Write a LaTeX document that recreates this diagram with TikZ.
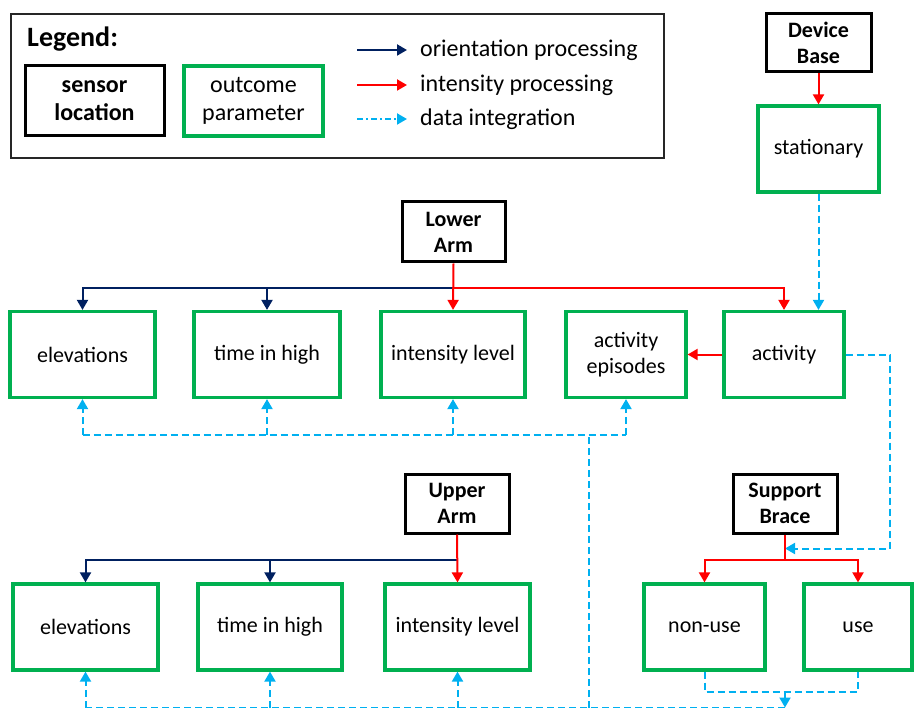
\documentclass[tikz,border=0pt]{standalone}
\usepackage{fontspec}
\setmainfont{Carlito}
\usetikzlibrary{arrows.meta, calc}

\definecolor{outgreen}{RGB}{0,176,80}
\definecolor{orinavy}{RGB}{0,32,96}
\definecolor{intred}{RGB}{255,0,0}
\definecolor{datacyan}{RGB}{0,176,240}

\begin{document}
\begin{tikzpicture}[x=1pt, y=-1pt,
  sensor/.style={draw=black, line width=3pt, align=center, inner sep=0pt,
    font=\fontsize{22}{26}\selectfont\bfseries, minimum width=104pt, minimum height=59pt},
  outcome/.style={draw=outgreen, line width=3.2pt, align=center, inner sep=0pt,
    font=\fontsize{22}{26}\selectfont, minimum height=86pt},
  orient/.style={draw=orinavy, line width=2pt, -{Triangle[length=10pt,width=11pt]}},
  intens/.style={draw=intred, line width=2pt, -{Triangle[length=10pt,width=11pt]}},
  integline/.style={draw=datacyan, line width=2pt, dash pattern=on 7pt off 4pt},
  integ/.style={integline, -{Triangle[length=10pt,width=11pt]}},
  legtext/.style={anchor=west, inner sep=0pt, font=\fontsize{24}{28}\selectfont}]
\useasboundingbox (0,0) rectangle (915,708);

% legend
\node[draw=black!85, line width=1.2pt, inner sep=0pt, minimum width=653pt, minimum height=144pt] (legend) at (337.5,86) {};
\node[anchor=base west, inner sep=0pt, font=\fontsize{28}{32}\selectfont\bfseries] (legtitle) at (27,47) {Legend:};
\node[sensor, minimum width=139pt, minimum height=70pt, font=\fontsize{24}{28}\selectfont\bfseries] (legsens) at (94.5,101) {sensor\\location};
\node[outcome, minimum width=139pt, minimum height=70pt, font=\fontsize{24}{28}\selectfont] (legout) at (253.5,101) {outcome\\parameter};
\node[legtext] (ortxt) at (420,50) {orientation processing};
\node[legtext] (intxt) at (420,85) {intensity processing};
\node[legtext] (datxt) at (420,119) {data integration};
\draw[orient] ([xshift=-63pt]ortxt.west) -- ([xshift=-13pt]ortxt.west);
\draw[intens] ([xshift=-63pt]intxt.west) -- ([xshift=-13pt]intxt.west);
\draw[integ, dash pattern=on 6pt off 3pt on 2pt off 3pt] ([xshift=-63pt]datxt.west) -- ([xshift=-13pt]datxt.west);

% sensor locations
\node[sensor, minimum width=105pt, minimum height=58pt] (devbase) at (818.5,43) {Device\\Base};
\node[sensor, minimum width=103pt, minimum height=60pt] (lowarm) at (453.5,232) {Lower\\Arm};
\node[sensor] (uparm) at (457,503.5) {Upper\\Arm};
\node[sensor] (brace) at (785,503.5) {Support\\Brace};

% outcome parameters
\node[outcome, minimum width=121pt] (stat) at (818.5,149) {stationary};
\node[outcome, minimum width=145pt] (elevL) at (82.5,354.5) {elevations};
\node[outcome, minimum width=146pt] (timeL) at (267,354.5) {time in high};
\node[outcome, minimum width=144pt] (intL) at (453,354.5) {intensity level};
\node[outcome, minimum width=120pt] (episL) at (626,354.5) {activity\\episodes};
\node[outcome, minimum width=120pt] (actL) at (784,354.5) {activity};
\node[outcome, minimum width=145pt] (elevU) at (85.5,627) {elevations};
\node[outcome, minimum width=144pt] (timeU) at (270,627) {time in high};
\node[outcome, minimum width=145pt] (intU) at (457.5,627) {intensity level};
\node[outcome, minimum width=121pt] (nonuse) at (704.5,627) {non-use};
\node[outcome, minimum width=108pt] (use) at (858,627) {use};

% lower arm
\coordinate (lowbus) at ($(lowarm.south)+(0,25)$);
\draw[orient] (lowbus) -| (elevL.north);
\draw[orient] (lowbus -| timeL.north) -- (timeL.north);
\draw[intens] (lowarm.south) -- (intL.north);
\draw[intens] (lowbus) -| (actL.north);

% device base
\draw[intens] (devbase.south) -- (stat.north);
\draw[integ] (stat.south) -- (stat.south |- actL.north);
\draw[intens] (actL.west) -- (episL.east);

% support brace
\coordinate (bracejoin) at ($(brace.south)+(0,14)$);
\coordinate (bracebus) at ($(brace.south)+(0,25)$);
\draw[integ] (actL.east) -- ++(44,0) |- (bracejoin);
\draw[intens] (brace.south) -- (bracebus) -| (nonuse.north);
\draw[intens] (bracebus) -| (use.north);

% upper arm
\coordinate (upbus) at ($(uparm.south)+(0,25)$);
\draw[orient] (upbus) -| (elevU.north);
\draw[orient] (upbus -| timeU.north) -- (timeU.north);
\draw[intens] (uparm.south) -- (intU.north);

% data integration
\coordinate (merge) at ($(brace.south)+(0,157)$);
\coordinate (lowline) at ($(merge)+(0,16)$);
\coordinate (topline) at (589,435);
\draw[integline] (nonuse.south) |- (merge) -| (use.south);
\draw[integ] (merge) -- (lowline);
\draw[integline] (lowline) -- (lowline -| elevU.south);
\draw[integline] (topline |- lowline) -- (topline);
\draw[integline] (elevL.south |- topline) -- (episL.south |- topline);
\foreach \n in {elevU,timeU,intU}
  \draw[integ] (\n.south |- lowline) -- (\n.south);
\foreach \n in {elevL,timeL,intL,episL}
  \draw[integ] (\n.south |- topline) -- (\n.south);
\end{tikzpicture}
\end{document}
